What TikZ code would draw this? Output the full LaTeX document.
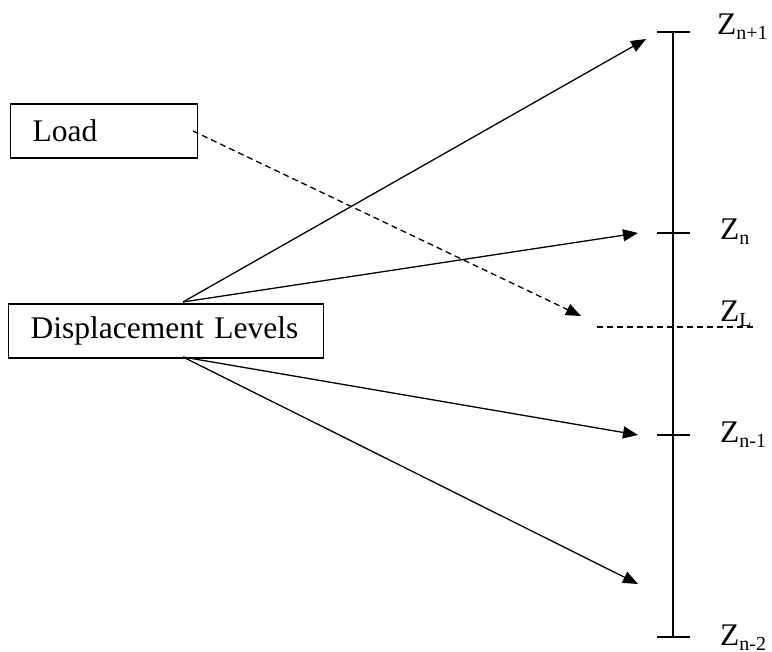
\documentclass[tikz,border=0pt]{standalone}
\usepackage{fontspec}
\setmainfont{Liberation Serif}
\usetikzlibrary{arrows.meta}
\newcommand\zsub[1]{\raisebox{-5pt}{\fontsize{20}{20}\selectfont #1}}
\tikzset{
  boxnode/.style={draw, line width=1.4pt, anchor=north west, minimum height=54pt, inner xsep=22pt, inner ysep=0pt, align=left, font=\fontsize{31.5}{36}\selectfont},
  link/.style={line width=1.3pt, -{Triangle[length=15pt, width=12pt]}},
  dlink/.style={line width=1.3pt, dash pattern=on 6pt off 4pt, -{Triangle[length=15pt, width=12pt]}},
  scaleline/.style={line width=1.4pt},
  zlabel/.style={anchor=base west, inner sep=0pt, font=\fontsize{31.5}{36}\selectfont}
}
\begin{document}
\begin{tikzpicture}[x=1pt, y=-1pt]
\useasboundingbox (0,0) rectangle (772,652);
\node[boxnode, text width=143pt] (load) at (10,103.5) {Load};
\node[boxnode, text width=271pt] (disp) at (8,303.5) {Displacement Levels};
\coordinate (dtop) at (183,302);
\coordinate (dbot) at (183,357);
\coordinate (t1) at (646,39);
\coordinate (t2) at (638,233);
\coordinate (t3) at (638,435);
\coordinate (t4) at (638,584);
\coordinate (tl) at (581,316);
\coordinate (ls) at (193,131);
\draw[link] (dtop) -- (t1);
\draw[link] (dtop) -- (t2);
\draw[link] (dbot) -- (t3);
\draw[link] (dbot) -- (t4);
\draw[dlink] (ls) -- (tl);
% scale
\coordinate (vtop) at (673,32);
\coordinate (vbot) at (673,637);
\draw[scaleline] (vtop) -- (vbot);
\foreach \y/\n in {32/a,233/b,435/c,637/d}{
  \coordinate (ta\n) at (657,\y);
  \coordinate (tb\n) at (690,\y);
  \draw[scaleline] (ta\n) -- (tb\n);
}
\coordinate (zl1) at (597,327);
\coordinate (zl2) at (757,327);
\draw[line width=1.3pt, dash pattern=on 6pt off 4pt] (zl1) -- (zl2);
\node[zlabel] (z1) at (717,35) {Z\zsub{n+1}};
\node[zlabel] (z2) at (720,240) {Z\zsub{n}};
\node[zlabel] (z3) at (720,322) {Z\zsub{L}};
\node[zlabel] (z4) at (720,443) {Z\zsub{n-1}};
\node[zlabel] (z5) at (720,645) {Z\zsub{n-2}};
\end{tikzpicture}
\end{document}
